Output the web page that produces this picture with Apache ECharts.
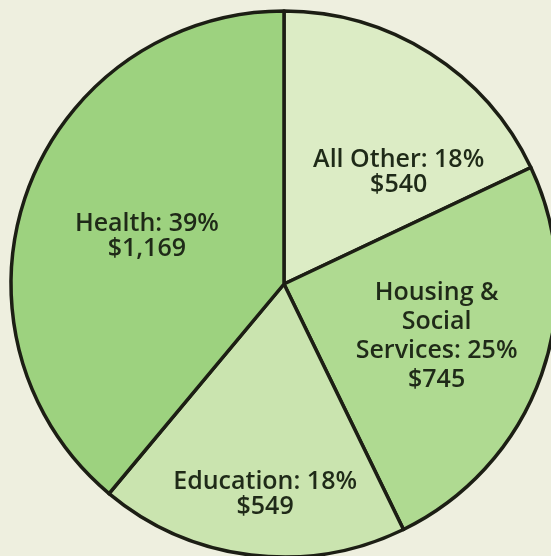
<!DOCTYPE html>
<html>
<head>
<meta charset="utf-8">
<script src="https://cdn.jsdelivr.net/npm/echarts@6/dist/echarts.min.js"></script>
<style>
  html, body { margin: 0; padding: 0; background: #eeefdf; }
  #chart { width: 551px; height: 556px; }
</style>
</head>
<body>
<div id="chart"></div>
<script>
const names = ["All Other", "Housing &\nSocial\nServices", "Education", "Health"];
const values = [540, 745, 549, 1169];
const colors = ["#dcecc5", "#afda91", "#cae4af", "#9dd27f"];
// nudges for the in-slice labels, px
const labelShift = [[40, 6], [21, 6], [-2, 72], [-6, 0]];
const labelLines = [25, 29, 25, 25];

const chart = echarts.init(document.getElementById("chart"));

const option = {
  backgroundColor: "#eeefdf",
  animation: false,
  series: [
    {
      type: "pie",
      center: [284, 284],
      radius: 273,
      startAngle: 90,
      clockwise: true,
      percentPrecision: 0,
      data: names.map((name, i) => ({
        name: name,
        value: values[i],
        itemStyle: { color: colors[i] },
        label: { lineHeight: labelLines[i] },
      })),
      itemStyle: {
        borderColor: "#1c1e14",
        borderWidth: 3.5,
      },
      label: {
        position: "inside",
        color: "#1f2a18",
        fontFamily: "Open Sans",
        fontWeight: 600,
        fontSize: 25,
        align: "center",
        formatter: (p) => p.name + ": " + p.percent + "%\n$" + p.value.toLocaleString("en-US"),
      },
      labelLayout: (p) => ({
        dx: labelShift[p.dataIndex][0],
        dy: labelShift[p.dataIndex][1],
      }),
      labelLine: { show: false },
      emphasis: { disabled: true },
    },
  ],
};

option && chart.setOption(option);

window.addEventListener("resize", () => {
  chart.resize();
});
</script>
</body>
</html>
